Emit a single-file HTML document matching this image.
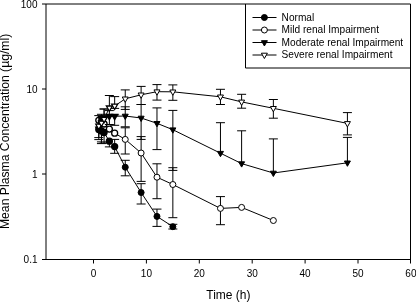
<!DOCTYPE html>
<html><head><meta charset="utf-8"><style>
html,body{margin:0;padding:0;background:#fff;width:416px;height:302px;overflow:hidden}
svg{display:block;font-family:"Liberation Sans",sans-serif;will-change:transform}
</style></head><body>
<svg width="416" height="302" viewBox="0 0 416 302">
<rect width="416" height="302" fill="#fff"/>
<path d="M42 4H410.5V263.5M46 4V259.5M42 259.5H410.5M42 89H46M42 174H46" stroke="#000" stroke-width="1" fill="none"/>
<path d="M93.5 259.5V263.5" stroke="#000" stroke-width="1"/>
<path d="M146.4 259.5V263.5" stroke="#000" stroke-width="1"/>
<path d="M199.3 259.5V263.5" stroke="#000" stroke-width="1"/>
<path d="M252.2 259.5V263.5" stroke="#000" stroke-width="1"/>
<path d="M305.1 259.5V263.5" stroke="#000" stroke-width="1"/>
<path d="M358 259.5V263.5" stroke="#000" stroke-width="1"/>
<text x="93.5" y="277.2" font-size="10" text-anchor="middle" font-family="Liberation Sans, sans-serif">0</text>
<text x="146.4" y="277.2" font-size="10" text-anchor="middle" font-family="Liberation Sans, sans-serif">10</text>
<text x="199.3" y="277.2" font-size="10" text-anchor="middle" font-family="Liberation Sans, sans-serif">20</text>
<text x="252.2" y="277.2" font-size="10" text-anchor="middle" font-family="Liberation Sans, sans-serif">30</text>
<text x="305.1" y="277.2" font-size="10" text-anchor="middle" font-family="Liberation Sans, sans-serif">40</text>
<text x="358" y="277.2" font-size="10" text-anchor="middle" font-family="Liberation Sans, sans-serif">50</text>
<text x="410.9" y="277.2" font-size="10" text-anchor="middle" font-family="Liberation Sans, sans-serif">60</text>
<text x="37.5" y="7.5" font-size="10" text-anchor="end" font-family="Liberation Sans, sans-serif">100</text>
<text x="37.5" y="92.5" font-size="10" text-anchor="end" font-family="Liberation Sans, sans-serif">10</text>
<text x="37.5" y="177.5" font-size="10" text-anchor="end" font-family="Liberation Sans, sans-serif">1</text>
<text x="37.5" y="262.5" font-size="10" text-anchor="end" font-family="Liberation Sans, sans-serif">0.1</text>
<text x="228.4" y="299" font-size="12" text-anchor="middle" font-family="Liberation Sans, sans-serif">Time (h)</text>
<text transform="translate(9.4 131.4) rotate(-90)" x="0" y="0" font-size="12.2" text-anchor="middle" font-family="Liberation Sans, sans-serif">Mean Plasma Concentration (µg/ml)</text>
<path d="M245.5 4V68H410.5" stroke="#000" stroke-width="1" fill="none"/>
<path d="M252.5 17.5H276.5" stroke="#000" stroke-width="1"/>
<circle cx="264.4" cy="17.5" r="3.0" fill="#000" stroke="#000" stroke-width="1"/>
<text x="281.6" y="20.9" font-size="10.15" font-family="Liberation Sans, sans-serif">Normal</text>
<path d="M252.5 30H276.5" stroke="#000" stroke-width="1"/>
<circle cx="264.4" cy="30" r="3.0" fill="#fff" stroke="#000" stroke-width="1"/>
<text x="281.6" y="33.3" font-size="10.15" font-family="Liberation Sans, sans-serif">Mild renal Impairment</text>
<path d="M252.5 42.5H276.5" stroke="#000" stroke-width="1"/>
<path d="M261.4 40.7L267.4 40.7L264.4 46Z" fill="#000" stroke="#000" stroke-width="1" stroke-linejoin="miter"/>
<text x="281.6" y="45.7" font-size="10.15" font-family="Liberation Sans, sans-serif">Moderate renal Impairment</text>
<path d="M252.5 55H276.5" stroke="#000" stroke-width="1"/>
<path d="M261.4 53.2L267.4 53.2L264.4 58.5Z" fill="#fff" stroke="#000" stroke-width="1" stroke-linejoin="miter"/>
<text x="281.6" y="58.1" font-size="10.15" font-family="Liberation Sans, sans-serif">Severe renal Impairment</text>
<polyline points="98.79,129.5 101.44,131 104.08,132.5 109.37,141.2 114.66,146.6 125.24,167.2 141.11,192.5 156.98,216.4 172.85,226.7" fill="none" stroke="#000" stroke-width="1"/>
<path d="M98.79 129.5V139.6M94.29 139.6H103.29" stroke="#000" stroke-width="1" fill="none"/>
<path d="M101.44 131V143.6M96.94 143.6H105.94" stroke="#000" stroke-width="1" fill="none"/>
<path d="M104.08 132.5V143M99.58 143H108.58" stroke="#000" stroke-width="1" fill="none"/>
<path d="M109.37 141.2V146.9M104.87 146.9H113.87" stroke="#000" stroke-width="1" fill="none"/>
<path d="M114.66 146.6V139.4M110.16 139.4H119.16" stroke="#000" stroke-width="1" fill="none"/>
<path d="M114.66 146.6V153.3M110.16 153.3H119.16" stroke="#000" stroke-width="1" fill="none"/>
<path d="M125.24 167.2V160.3M120.74 160.3H129.74" stroke="#000" stroke-width="1" fill="none"/>
<path d="M125.24 167.2V175.8M120.74 175.8H129.74" stroke="#000" stroke-width="1" fill="none"/>
<path d="M141.11 192.5V183.7M136.61 183.7H145.61" stroke="#000" stroke-width="1" fill="none"/>
<path d="M141.11 192.5V204M136.61 204H145.61" stroke="#000" stroke-width="1" fill="none"/>
<path d="M156.98 216.4V209.1M152.48 209.1H161.48" stroke="#000" stroke-width="1" fill="none"/>
<path d="M156.98 216.4V226.4M152.48 226.4H161.48" stroke="#000" stroke-width="1" fill="none"/>
<path d="M172.85 226.7V224.3M168.35 224.3H177.35" stroke="#000" stroke-width="1" fill="none"/>
<path d="M172.85 226.7V229M168.35 229H177.35" stroke="#000" stroke-width="1" fill="none"/>
<circle cx="98.79" cy="129.5" r="3.0" fill="#000" stroke="#000" stroke-width="1.3"/>
<circle cx="101.44" cy="131" r="3.0" fill="#000" stroke="#000" stroke-width="1.3"/>
<circle cx="104.08" cy="132.5" r="3.0" fill="#000" stroke="#000" stroke-width="1.3"/>
<circle cx="109.37" cy="141.2" r="3.0" fill="#000" stroke="#000" stroke-width="1.3"/>
<circle cx="114.66" cy="146.6" r="3.0" fill="#000" stroke="#000" stroke-width="1.3"/>
<circle cx="125.24" cy="167.2" r="3.0" fill="#000" stroke="#000" stroke-width="1"/>
<circle cx="141.11" cy="192.5" r="3.0" fill="#000" stroke="#000" stroke-width="1"/>
<circle cx="156.98" cy="216.4" r="3.0" fill="#000" stroke="#000" stroke-width="1"/>
<circle cx="172.85" cy="226.7" r="3.0" fill="#000" stroke="#000" stroke-width="1"/>
<polyline points="98.79,120.3 101.44,122.5 104.08,124 109.37,129.1 114.66,133.2 125.24,139.4 141.11,153 156.98,177.2 172.85,184.5 220.46,208.4 241.62,207.4 273.36,220.5" fill="none" stroke="#000" stroke-width="1"/>
<path d="M98.79 120.3V137.6M94.29 137.6H103.29" stroke="#000" stroke-width="1" fill="none"/>
<path d="M101.44 122.5V141.9M96.94 141.9H105.94" stroke="#000" stroke-width="1" fill="none"/>
<path d="M125.24 139.4V127.8M120.74 127.8H129.74" stroke="#000" stroke-width="1" fill="none"/>
<path d="M125.24 139.4V154M120.74 154H129.74" stroke="#000" stroke-width="1" fill="none"/>
<path d="M141.11 153V136.6M136.61 136.6H145.61" stroke="#000" stroke-width="1" fill="none"/>
<path d="M141.11 153V181.4M136.61 181.4H145.61" stroke="#000" stroke-width="1" fill="none"/>
<path d="M156.98 177.2V163.8M152.48 163.8H161.48" stroke="#000" stroke-width="1" fill="none"/>
<path d="M156.98 177.2V198.7M152.48 198.7H161.48" stroke="#000" stroke-width="1" fill="none"/>
<path d="M172.85 184.5V167.7M168.35 167.7H177.35" stroke="#000" stroke-width="1" fill="none"/>
<path d="M172.85 184.5V217.7M168.35 217.7H177.35" stroke="#000" stroke-width="1" fill="none"/>
<path d="M220.46 208.4V196.6M215.96 196.6H224.96" stroke="#000" stroke-width="1" fill="none"/>
<path d="M220.46 208.4V224.7M215.96 224.7H224.96" stroke="#000" stroke-width="1" fill="none"/>
<circle cx="98.79" cy="120.3" r="3.0" fill="#fff" stroke="#000" stroke-width="1.3"/>
<circle cx="101.44" cy="122.5" r="3.0" fill="#fff" stroke="#000" stroke-width="1.3"/>
<circle cx="104.08" cy="124" r="3.0" fill="#fff" stroke="#000" stroke-width="1.3"/>
<circle cx="109.37" cy="129.1" r="3.0" fill="#fff" stroke="#000" stroke-width="1.3"/>
<circle cx="114.66" cy="133.2" r="3.0" fill="#fff" stroke="#000" stroke-width="1.3"/>
<circle cx="125.24" cy="139.4" r="3.0" fill="#fff" stroke="#000" stroke-width="1"/>
<circle cx="141.11" cy="153" r="3.0" fill="#fff" stroke="#000" stroke-width="1"/>
<circle cx="156.98" cy="177.2" r="3.0" fill="#fff" stroke="#000" stroke-width="1"/>
<circle cx="172.85" cy="184.5" r="3.0" fill="#fff" stroke="#000" stroke-width="1"/>
<circle cx="220.46" cy="208.4" r="3.0" fill="#fff" stroke="#000" stroke-width="1"/>
<circle cx="241.62" cy="207.4" r="3.0" fill="#fff" stroke="#000" stroke-width="1"/>
<circle cx="273.36" cy="220.5" r="3.0" fill="#fff" stroke="#000" stroke-width="1"/>
<polyline points="98.79,129 101.44,118.5 104.08,117.8 109.37,116.3 114.66,116.3 125.24,116 141.11,118 156.98,123.3 172.85,129.7 220.46,153.2 241.62,163.6 273.36,173 347.42,162.8" fill="none" stroke="#000" stroke-width="1"/>
<path d="M98.79 129V115.6M94.29 115.6H103.29" stroke="#000" stroke-width="1" fill="none"/>
<path d="M101.44 118.5V114.3M96.94 114.3H105.94" stroke="#000" stroke-width="1" fill="none"/>
<path d="M104.08 117.8V109M99.58 109H108.58" stroke="#000" stroke-width="1" fill="none"/>
<path d="M109.37 116.3V110.6M104.87 110.6H113.87" stroke="#000" stroke-width="1" fill="none"/>
<path d="M109.37 116.3V124.5M104.87 124.5H113.87" stroke="#000" stroke-width="1" fill="none"/>
<path d="M114.66 116.3V114.9M110.16 114.9H119.16" stroke="#000" stroke-width="1" fill="none"/>
<path d="M114.66 116.3V125.3M110.16 125.3H119.16" stroke="#000" stroke-width="1" fill="none"/>
<path d="M125.24 116V106.8M120.74 106.8H129.74" stroke="#000" stroke-width="1" fill="none"/>
<path d="M125.24 116V126.8M120.74 126.8H129.74" stroke="#000" stroke-width="1" fill="none"/>
<path d="M141.11 118V104.5M136.61 104.5H145.61" stroke="#000" stroke-width="1" fill="none"/>
<path d="M141.11 118V139.4M136.61 139.4H145.61" stroke="#000" stroke-width="1" fill="none"/>
<path d="M156.98 123.3V107.9M152.48 107.9H161.48" stroke="#000" stroke-width="1" fill="none"/>
<path d="M156.98 123.3V149.6M152.48 149.6H161.48" stroke="#000" stroke-width="1" fill="none"/>
<path d="M172.85 129.7V110.4M168.35 110.4H177.35" stroke="#000" stroke-width="1" fill="none"/>
<path d="M172.85 129.7V170.4M168.35 170.4H177.35" stroke="#000" stroke-width="1" fill="none"/>
<path d="M220.46 153.2V122.7M215.96 122.7H224.96" stroke="#000" stroke-width="1" fill="none"/>
<path d="M241.62 163.6V130.8M237.12 130.8H246.12" stroke="#000" stroke-width="1" fill="none"/>
<path d="M273.36 173V138.9M268.86 138.9H277.86" stroke="#000" stroke-width="1" fill="none"/>
<path d="M347.42 162.8V137.4M342.92 137.4H351.92" stroke="#000" stroke-width="1" fill="none"/>
<path d="M95.79 127.2L101.79 127.2L98.79 132.5Z" fill="#000" stroke="#000" stroke-width="1.3" stroke-linejoin="miter"/>
<path d="M98.44 116.7L104.44 116.7L101.44 122Z" fill="#000" stroke="#000" stroke-width="1.3" stroke-linejoin="miter"/>
<path d="M101.08 116L107.08 116L104.08 121.3Z" fill="#000" stroke="#000" stroke-width="1.3" stroke-linejoin="miter"/>
<path d="M106.37 114.5L112.37 114.5L109.37 119.8Z" fill="#000" stroke="#000" stroke-width="1.3" stroke-linejoin="miter"/>
<path d="M111.66 114.5L117.66 114.5L114.66 119.8Z" fill="#000" stroke="#000" stroke-width="1.3" stroke-linejoin="miter"/>
<path d="M122.24 114.2L128.24 114.2L125.24 119.5Z" fill="#000" stroke="#000" stroke-width="1" stroke-linejoin="miter"/>
<path d="M138.11 116.2L144.11 116.2L141.11 121.5Z" fill="#000" stroke="#000" stroke-width="1" stroke-linejoin="miter"/>
<path d="M153.98 121.5L159.98 121.5L156.98 126.8Z" fill="#000" stroke="#000" stroke-width="1" stroke-linejoin="miter"/>
<path d="M169.85 127.9L175.85 127.9L172.85 133.2Z" fill="#000" stroke="#000" stroke-width="1" stroke-linejoin="miter"/>
<path d="M217.46 151.4L223.46 151.4L220.46 156.7Z" fill="#000" stroke="#000" stroke-width="1" stroke-linejoin="miter"/>
<path d="M238.62 161.8L244.62 161.8L241.62 167.1Z" fill="#000" stroke="#000" stroke-width="1" stroke-linejoin="miter"/>
<path d="M270.36 171.2L276.36 171.2L273.36 176.5Z" fill="#000" stroke="#000" stroke-width="1" stroke-linejoin="miter"/>
<path d="M344.42 161L350.42 161L347.42 166.3Z" fill="#000" stroke="#000" stroke-width="1" stroke-linejoin="miter"/>
<polyline points="98.79,126 101.44,123 104.08,119.2 109.37,107.8 114.66,106 125.24,98.8 141.11,94.8 156.98,91.7 172.85,91.8 220.46,96.8 241.62,101.9 273.36,108.3 347.42,123.4" fill="none" stroke="#000" stroke-width="1"/>
<path d="M104.08 119.2V109M99.58 109H108.58" stroke="#000" stroke-width="1" fill="none"/>
<path d="M109.37 107.8V95.5M104.87 95.5H113.87" stroke="#000" stroke-width="1" fill="none"/>
<path d="M114.66 106V96.6M110.16 96.6H119.16" stroke="#000" stroke-width="1" fill="none"/>
<path d="M114.66 106V108.4M110.16 108.4H119.16" stroke="#000" stroke-width="1" fill="none"/>
<path d="M125.24 98.8V89.9M120.74 89.9H129.74" stroke="#000" stroke-width="1" fill="none"/>
<path d="M125.24 98.8V109.4M120.74 109.4H129.74" stroke="#000" stroke-width="1" fill="none"/>
<path d="M141.11 94.8V86.4M136.61 86.4H145.61" stroke="#000" stroke-width="1" fill="none"/>
<path d="M141.11 94.8V104.5M136.61 104.5H145.61" stroke="#000" stroke-width="1" fill="none"/>
<path d="M156.98 91.7V84.6M152.48 84.6H161.48" stroke="#000" stroke-width="1" fill="none"/>
<path d="M156.98 91.7V100.1M152.48 100.1H161.48" stroke="#000" stroke-width="1" fill="none"/>
<path d="M172.85 91.8V84.9M168.35 84.9H177.35" stroke="#000" stroke-width="1" fill="none"/>
<path d="M172.85 91.8V100.3M168.35 100.3H177.35" stroke="#000" stroke-width="1" fill="none"/>
<path d="M220.46 96.8V89.3M215.96 89.3H224.96" stroke="#000" stroke-width="1" fill="none"/>
<path d="M220.46 96.8V104.5M215.96 104.5H224.96" stroke="#000" stroke-width="1" fill="none"/>
<path d="M241.62 101.9V94.3M237.12 94.3H246.12" stroke="#000" stroke-width="1" fill="none"/>
<path d="M241.62 101.9V108.2M237.12 108.2H246.12" stroke="#000" stroke-width="1" fill="none"/>
<path d="M273.36 108.3V99.5M268.86 99.5H277.86" stroke="#000" stroke-width="1" fill="none"/>
<path d="M273.36 108.3V118.2M268.86 118.2H277.86" stroke="#000" stroke-width="1" fill="none"/>
<path d="M347.42 123.4V112.6M342.92 112.6H351.92" stroke="#000" stroke-width="1" fill="none"/>
<path d="M347.42 123.4V134.9M342.92 134.9H351.92" stroke="#000" stroke-width="1" fill="none"/>
<path d="M95.79 124.2L101.79 124.2L98.79 129.5Z" fill="#fff" stroke="#000" stroke-width="1.3" stroke-linejoin="miter"/>
<path d="M98.44 121.2L104.44 121.2L101.44 126.5Z" fill="#fff" stroke="#000" stroke-width="1.3" stroke-linejoin="miter"/>
<path d="M101.08 117.4L107.08 117.4L104.08 122.7Z" fill="#fff" stroke="#000" stroke-width="1.3" stroke-linejoin="miter"/>
<path d="M106.37 106L112.37 106L109.37 111.3Z" fill="#fff" stroke="#000" stroke-width="1.3" stroke-linejoin="miter"/>
<path d="M111.66 104.2L117.66 104.2L114.66 109.5Z" fill="#fff" stroke="#000" stroke-width="1.3" stroke-linejoin="miter"/>
<path d="M122.24 97L128.24 97L125.24 102.3Z" fill="#fff" stroke="#000" stroke-width="1" stroke-linejoin="miter"/>
<path d="M138.11 93L144.11 93L141.11 98.3Z" fill="#fff" stroke="#000" stroke-width="1" stroke-linejoin="miter"/>
<path d="M153.98 89.9L159.98 89.9L156.98 95.2Z" fill="#fff" stroke="#000" stroke-width="1" stroke-linejoin="miter"/>
<path d="M169.85 90L175.85 90L172.85 95.3Z" fill="#fff" stroke="#000" stroke-width="1" stroke-linejoin="miter"/>
<path d="M217.46 95L223.46 95L220.46 100.3Z" fill="#fff" stroke="#000" stroke-width="1" stroke-linejoin="miter"/>
<path d="M238.62 100.1L244.62 100.1L241.62 105.4Z" fill="#fff" stroke="#000" stroke-width="1" stroke-linejoin="miter"/>
<path d="M270.36 106.5L276.36 106.5L273.36 111.8Z" fill="#fff" stroke="#000" stroke-width="1" stroke-linejoin="miter"/>
<path d="M344.42 121.6L350.42 121.6L347.42 126.9Z" fill="#fff" stroke="#000" stroke-width="1" stroke-linejoin="miter"/>
</svg>
</body></html>
